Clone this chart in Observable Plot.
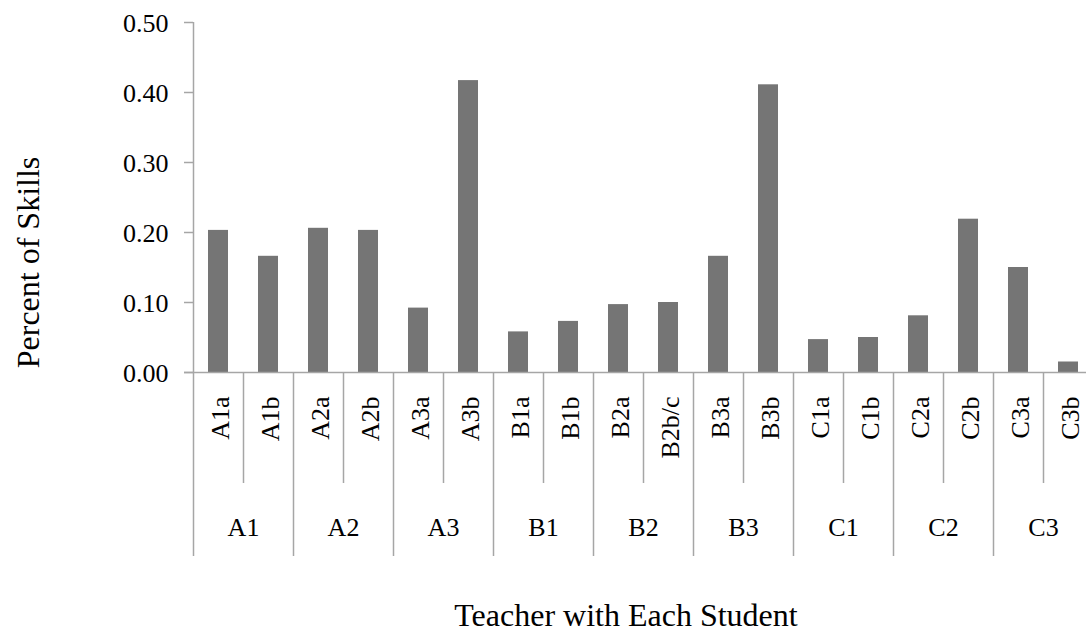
<!DOCTYPE html>
<html>
<head>
<meta charset="utf-8">
<script src="https://cdn.jsdelivr.net/npm/d3@7"></script>
<script src="https://cdn.jsdelivr.net/npm/@observablehq/plot@0.6"></script>
<style>
  html, body { margin: 0; padding: 0; background: #fff; }
  #chart { width: 1086px; height: 634px; overflow: hidden; }
</style>
</head>
<body>
<div id="chart"></div>
<script>
// ---- data ----
const students = ["A1a","A1b","A2a","A2b","A3a","A3b","B1a","B1b","B2a","B2b/c","B3a","B3b","C1a","C1b","C2a","C2b","C3a","C3b"];
const teachers = ["A1","A2","A3","B1","B2","B3","C1","C2","C3"];
const values = [0.203,0.166,0.206,0.203,0.092,0.417,0.058,0.073,0.097,0.100,0.166,0.411,0.047,0.050,0.081,0.219,0.150,0.015];
const yTicks = [0, 0.1, 0.2, 0.3, 0.4, 0.5];
const yLabel = "Percent of Skills";
const xLabel = "Teacher with Each Student";

const data = students.map((s, i) => ({student: s, teacher: s.slice(0, 2), value: values[i], first: i % 2 === 0}));
const groups = teachers.map(t => ({teacher: t, second: data.find(d => d.teacher === t && !d.first).student}));

const axisColor = "#a6a6a6";
const barColor = "#757575";
const tickFont = "Liberation Serif";
const titleFont = "Liberation Serif";
const half = 25; // half of a category step, px

const chart = Plot.plot({
  width: 1086,
  height: 634,
  marginLeft: 193,
  marginTop: 22,
  marginBottom: 262,
  marginRight: 0,
  x: {domain: students, range: [193, 1093], padding: 0, axis: null},
  y: {domain: [0, 0.5], axis: null},
  style: {background: "#fff", color: "#000", fontFamily: tickFont},
  marks: [
    Plot.barY(data, {x: "student", y: "value", fill: barColor, insetLeft: 15, insetRight: 15}),
    // x axis line
    Plot.ruleY([0], {stroke: axisColor, strokeWidth: 1.5, insetLeft: -9}),
    // y axis line
    Plot.ruleX([students[0]], {x: d => d, y1: 0, y2: 0.5, dx: -half, stroke: axisColor, strokeWidth: 1.5}),
    // y tick marks
    Plot.tickY(yTicks, {x: () => students[0], y: d => d, insetLeft: -9, insetRight: 2 * half, stroke: axisColor, strokeWidth: 1.5}),
    // y tick labels
    Plot.text(yTicks, {x: () => students[0], y: d => d, text: d => d3.format(".2f")(d), textAnchor: "end", dx: -50, dy: 1, fontSize: 26, fontFamily: tickFont, fill: "#000"}),
    // separators between students of the same teacher
    Plot.ruleX(data.filter(d => !d.first), {x: "student", y1: () => 0, y2: () => 0, dx: -half, insetBottom: -111, stroke: axisColor, strokeWidth: 1.5}),
    // separators between teachers
    Plot.ruleX(data.filter(d => d.first), {x: "student", y1: () => 0, y2: () => 0, dx: -half, insetBottom: -184, stroke: axisColor, strokeWidth: 1.5}),
    // student labels
    Plot.text(data, {x: "student", y: () => 0, text: "student", rotate: -90, textAnchor: "end", dy: 24, dx: 2, fontSize: 26, fontFamily: tickFont, fill: "#000"}),
    // teacher labels
    Plot.text(groups, {x: "second", y: () => 0, text: "teacher", dx: -half, dy: 155, fontSize: 26, fontFamily: tickFont, fill: "#000"}),
    // axis titles
    Plot.text([xLabel], {frameAnchor: "bottom", text: d => d, textAnchor: "middle", lineAnchor: "middle", dx: -14, dy: 243, fontSize: 32, fontFamily: titleFont, fill: "#000"}),
    Plot.text([yLabel], {frameAnchor: "left", text: d => d, textAnchor: "middle", lineAnchor: "middle", rotate: -90, dx: -165, dy: 65, fontSize: 32, fontFamily: titleFont, fill: "#000"})
  ]
});
document.getElementById("chart").appendChild(chart);
</script>
</body>
</html>
